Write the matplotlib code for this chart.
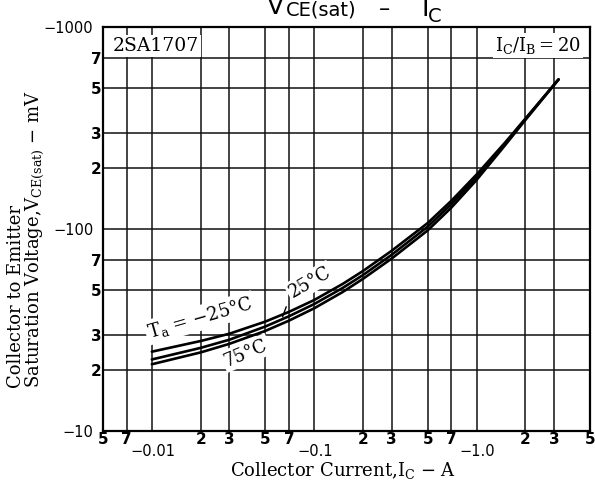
import numpy as np
import matplotlib
matplotlib.use('Agg')
import matplotlib.pyplot as plt
from matplotlib.ticker import FixedLocator, FixedFormatter
from matplotlib.transforms import ScaledTranslation

plt.rcParams['mathtext.fontset'] = 'dejavuserif'

# ---- data ----
ic = [0.01, 0.02, 0.03, 0.05, 0.07, 0.1, 0.15, 0.2, 0.3, 0.5, 0.7, 1.0, 1.5, 2.0, 3.2]
vce_m25 = [24.7, 27.9, 30.3, 34.8, 38.9, 44.5, 53.5, 62.0, 78.0, 107.0, 138.0, 186.0, 268.0, 352.0, 550.0]
vce_25 = [22.6, 25.8, 28.3, 32.9, 37.0, 42.5, 51.1, 59.2, 74.5, 102.7, 132.9, 180.4, 264.0, 349.5, 550.0]
vce_75 = [21.4, 24.5, 27.0, 31.3, 35.2, 40.5, 48.8, 56.7, 71.4, 98.4, 127.7, 174.8, 260.0, 346.7, 550.0]

x_major = [0.01, 0.1, 1.0]
x_major_labels = ['\u22120.01', '\u22120.1', '\u22121.0']
x_minor = [0.005, 0.007, 0.02, 0.03, 0.05, 0.07, 0.2, 0.3, 0.5, 0.7, 2, 3, 5]
x_minor_labels = ['5', '7', '2', '3', '5', '7', '2', '3', '5', '7', '2', '3', '5']
y_major = [10, 100, 1000]
y_major_labels = ['\u221210', '\u2212100', '\u22121000']
y_minor = [20, 30, 50, 70, 200, 300, 500, 700]
y_minor_labels = ['2', '3', '5', '7', '2', '3', '5', '7']

W, H = 595, 495
fig = plt.figure(figsize=(W / 100, H / 100), dpi=100)
L, R, T, B = 103, 590, 27, 431
ax = fig.add_axes([L / W, 1 - B / H, (R - L) / W, (B - T) / H])

ax.set_xscale('log')
ax.set_yscale('log')
ax.set_xlim(0.005, 5)
ax.set_ylim(10, 1000)

ax.xaxis.set_major_locator(FixedLocator(x_major))
ax.xaxis.set_major_formatter(FixedFormatter(x_major_labels))
ax.xaxis.set_minor_locator(FixedLocator(x_minor))
ax.xaxis.set_minor_formatter(FixedFormatter(x_minor_labels))
ax.yaxis.set_major_locator(FixedLocator(y_major))
ax.yaxis.set_major_formatter(FixedFormatter(y_major_labels))
ax.yaxis.set_minor_locator(FixedLocator(y_minor))
ax.yaxis.set_minor_formatter(FixedFormatter(y_minor_labels))

ax.set_axisbelow(True)
ax.grid(True, which='both', color='#111111', linewidth=1.1)

ax.tick_params(which='both', length=0)
ax.tick_params(axis='x', which='major', pad=9, labelsize=10.5)
ax.tick_params(axis='x', which='minor', pad=0.5, labelsize=11)
ax.tick_params(axis='y', which='major', pad=7, labelsize=10.5)
ax.tick_params(axis='y', which='minor', pad=1, labelsize=11)

for t in ax.xaxis.get_minor_ticks() + ax.yaxis.get_minor_ticks():
    t.label1.set_fontweight('bold')
for t in ax.xaxis.get_major_ticks():
    t.label1.set_transform(t.label1.get_transform() +
                           ScaledTranslation(1 / 100, 0, fig.dpi_scale_trans))

for s in ax.spines.values():
    s.set_linewidth(1.6)
    s.set_color('black')

# ---- curves ----
for v in (vce_m25, vce_25, vce_75):
    ax.plot(ic, v, color='black', linewidth=1.9, zorder=4,
            solid_capstyle='round', solid_joinstyle='round')

serif = 'DejaVu Serif'
box = dict(facecolor='white', edgecolor='none', pad=1.5)


def fx(px):
    return px / W


def fy(py):
    return 1 - py / H


MINUS = '\u2212'
DEG = '\u00b0'

# curve labels (white boxes hide grid, as in the reference)
fig.text(fx(200), fy(318), r'$\mathrm{T_a}$ = ' + MINUS + '25' + DEG + 'C',
         family=serif, fontsize=13, rotation=16, ha='center', va='center',
         bbox=box, zorder=3)
fig.text(fx(310), fy(282), '25' + DEG + 'C', family=serif, fontsize=13,
         rotation=30, ha='center', va='center', bbox=box, zorder=3)
fig.text(fx(246), fy(353), '75' + DEG + 'C', family=serif, fontsize=13,
         rotation=23, ha='center', va='center', bbox=box, zorder=3)

# leader from 25°C label to its curve
i_pt = 0.063
v_pt = float(10 ** np.interp(np.log10(i_pt), np.log10(ic), np.log10(vce_25)))
ax.annotate('', xy=(i_pt, v_pt), xytext=(4, 11), textcoords='offset points',
            arrowprops=dict(arrowstyle='-', color='black', lw=1.0), zorder=5)

fig.text(fx(113), fy(51), '2SA1707', family=serif, fontsize=13.5,
         ha='left', va='baseline', bbox=box, zorder=3)
fig.text(fx(538), fy(51), r'$\mathrm{I_C/I_B = 20}$', fontsize=13,
         ha='center', va='baseline', bbox=box, zorder=3)

# axis labels
fig.text(fx(343), fy(476), r'Collector Current,$\mathrm{I_C}$ ' + MINUS + ' A',
         family=serif, fontsize=13, ha='center', va='baseline')
fig.text(fx(16), fy(388), 'Collector to Emitter', family=serif, fontsize=13,
         rotation=90, ha='center', va='bottom')
fig.text(fx(35), fy(388), r'Saturation Voltage,$\mathrm{V_{CE(sat)}}$ ' + MINUS + ' mV',
         family=serif, fontsize=13, rotation=90, ha='center', va='bottom')

# title (clipped at top as in the reference)
sans = 'DejaVu Sans'
fig.text(fx(267), fy(14), 'V', family=sans, fontsize=18, va='baseline', ha='left')
fig.text(fx(286), fy(16), 'CE(sat)', family=sans, fontsize=14, va='baseline', ha='left')
fig.text(fx(379), fy(15), '\u2013', family=sans, fontsize=16, va='baseline', ha='left')
fig.text(fx(421), fy(16), 'I', family=sans, fontsize=18, va='baseline', ha='left')
fig.text(fx(428), fy(22), 'C', family=sans, fontsize=14, va='baseline', ha='left')

fig.savefig('out.png', dpi=100)
